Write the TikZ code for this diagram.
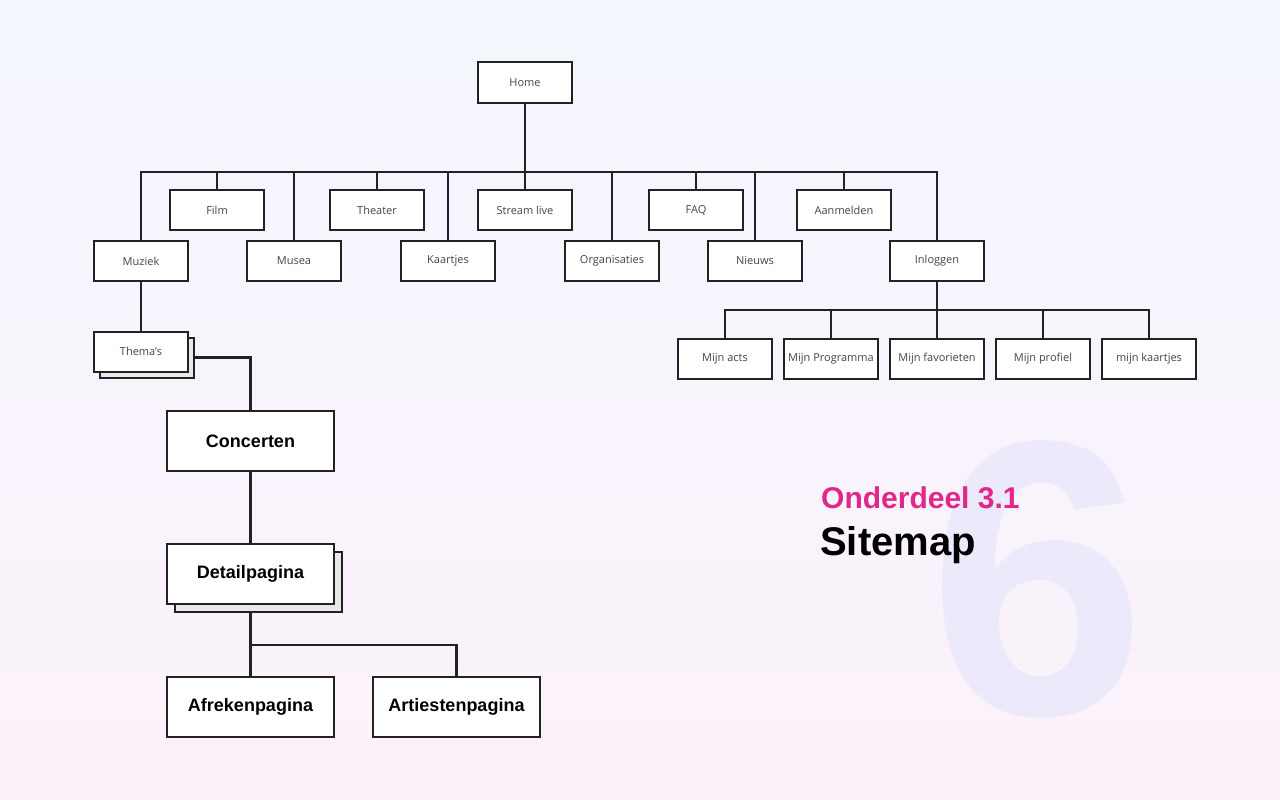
\documentclass[tikz,border=0pt]{standalone}
\usepackage{fontspec}
\setmainfont{Open Sans}
\newfontfamily\headfont{Liberation Sans}

\definecolor{boxline}{HTML}{222222}
\definecolor{labelgray}{HTML}{454545}
\definecolor{headpink}{HTML}{E0288A}
\definecolor{bgtop}{HTML}{F3F6FE}
\definecolor{bgbottom}{HTML}{FCF1FA}
\definecolor{bigsix}{HTML}{ECE9FA}

\begin{document}
\begin{tikzpicture}
  [x=1pt,y=-1pt,
   every node/.style={inner sep=0pt},
   page/.style={draw=boxline,line width=2pt,fill=white,minimum width=94pt,minimum height=40pt,
     font=\fontsize{11}{13}\selectfont,text=labelgray},
   bigpage/.style={page,minimum width=167pt,minimum height=60pt,
     font=\headfont\bfseries\fontsize{18}{21}\selectfont,text=black},
   stack/.style={fill=black!9},
   link/.style={draw=boxline,line width=2.2pt}]

  % background
  \shade[top color=bgtop,bottom color=bgbottom] (0,0) rectangle (1280,800);
  \useasboundingbox (0,0) rectangle (1280,800);

  % title
  \node[text=bigsix,anchor=base,font=\headfont\bfseries\fontsize{392}{392}\selectfont] (six) at (1037,714) {6};
  \node[text=headpink,anchor=base west,font=\headfont\bfseries\fontsize{30}{35}\selectfont] (part) at (821,508) {Onderdeel 3.1};
  \node[text=black,anchor=base west,font=\headfont\bfseries\fontsize{40}{46}\selectfont] (title) at (820,555) {Sitemap};

  % pages
  \node[page] (home) at (525,82.5) {Home};
  \foreach \name/\x/\txt in {film/217/Film,theater/377/Theater,stream/525/Stream live,
      faq/696/FAQ,aanmelden/844/Aanmelden}
    \node[page] (\name) at (\x,210) {\txt};
  \foreach \name/\x/\txt in {muziek/141/Muziek,musea/294/Musea,kaartjes/448/Kaartjes,
      organisaties/612/Organisaties,nieuws/755/Nieuws,inloggen/937/Inloggen}
    \node[page] (\name) at (\x,261) {\txt};
  \foreach \name/\x/\txt in {acts/725/Mijn acts,programma/831/Mijn Programma,
      favorieten/937/Mijn favorieten,profiel/1043/Mijn profiel,mijnkaartjes/1149/mijn kaartjes}
    \node[page] (\name) at (\x,359) {\txt};

  \node[page,stack] (themas-stack) at (147,357.5) {};
  \node[page] (themas) at (141,351.5) {Thema's};
  \node[bigpage] (concerten) at (250.5,441) {Concerten};
  \node[bigpage,stack] (detail-stack) at (258.5,582) {};
  \node[bigpage] (detail) at (250.5,574) {Detailpagina};
  \node[bigpage] (afreken) at (250.5,707) {Afrekenpagina};
  \node[bigpage] (artiesten) at (456.5,707) {Artiestenpagina};

  % links
  \coordinate (mainbus) at (525,172);
  \draw[link] (home) -- (mainbus);
  \draw[link] (muziek.north) |- (mainbus) -| (inloggen.north);
  \foreach \n in {film,musea,theater,kaartjes,stream,organisaties,faq,nieuws,aanmelden}
    \draw[link] (mainbus -| \n) -- (\n.north);

  \coordinate (accbus) at (937,310);
  \draw[link] (inloggen) -- (accbus);
  \draw[link] (acts.north) |- (accbus) -| (mijnkaartjes.north);
  \foreach \n in {programma,favorieten,profiel}
    \draw[link] (accbus -| \n) -- (\n.north);

  \draw[link] (muziek) -- (themas);
  \draw[link] (themas-stack.east) -| (concerten.north);
  \draw[link] (concerten) -- (detail);
  \coordinate (detailbus) at (250.5,645);
  \draw[link] (detail-stack.south -| detail) -- (detailbus) -| (artiesten.north);
  \draw[link] (detailbus) -- (afreken);
\end{tikzpicture}
\end{document}
